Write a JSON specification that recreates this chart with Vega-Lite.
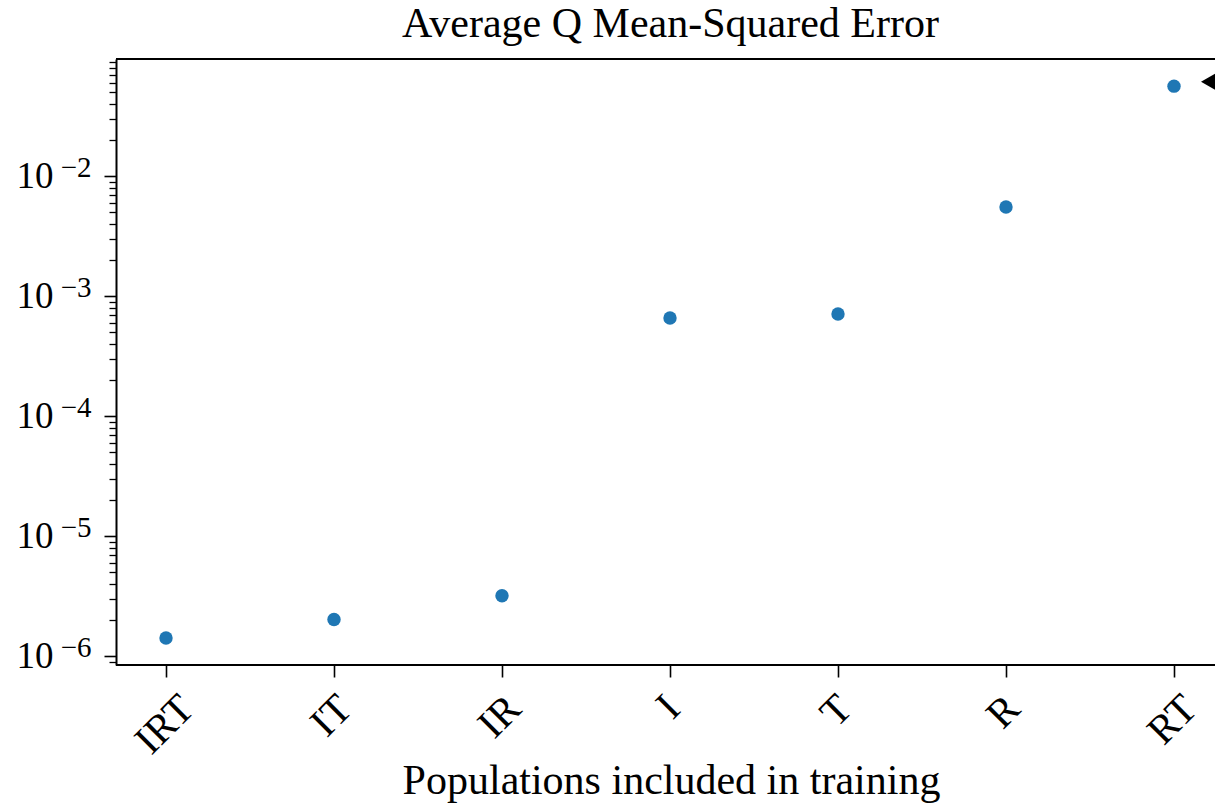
{
  "$schema": "https://vega.github.io/schema/vega-lite/v6.json",
  "width": 1099,
  "height": 606,
  "autosize": {"type": "none"},
  "padding": {"left": 116, "top": 59, "right": 0, "bottom": 146},
  "config": {
    "view": {"stroke": null},
    "font": "Liberation Serif",
    "axis": {"labelColor": "black", "tickColor": "black", "domainColor": "black", "titleColor": "black", "grid": false}
  },
  "title": {
    "text": "Average Q Mean-Squared Error",
    "font": "Liberation Serif",
    "fontSize": 42,
    "fontWeight": "normal",
    "color": "black",
    "anchor": "middle",
    "baseline": "bottom",
    "offset": 12,
    "dx": 5,
    "dy": 42
  },
  "datasets": {
    "mse": [
      {"population": "IRT", "error": 1.42e-6},
      {"population": "IT", "error": 2.02e-6},
      {"population": "IR", "error": 3.19e-6},
      {"population": "I", "error": 6.58e-4},
      {"population": "T", "error": 7.11e-4},
      {"population": "R", "error": 5.53e-3},
      {"population": "RT", "error": 5.62e-2}
    ],
    "marker": [
      {"population": "RT", "error": 6.11e-2}
    ],
    "frame": [
      {"edge": "top", "error": 0.0946},
      {"edge": "bottom", "error": 8.45e-7}
    ]
  },
  "layer": [
    {
      "data": {"name": "mse"},
      "mark": {"type": "circle", "size": 180, "color": "#1f77b4", "opacity": 1},
      "encoding": {
        "x": {
          "field": "population",
          "type": "nominal",
          "sort": null,
          "scale": {"type": "point", "range": [50, 1058], "padding": 0},
          "axis": {
            "domain": false,
            "labelAngle": -45,
            "labelAlign": "right",
            "labelBaseline": "top",
            "labelFontSize": 41,
            "labelPadding": 11,
            "labelOffset": {
              "condition": [
                {"test": "datum.value === 'IRT'", "value": 7},
                {"test": "datum.value === 'IT'", "value": -3},
                {"test": "datum.value === 'IR'", "value": -2},
                {"test": "datum.value === 'I'", "value": -11},
                {"test": "datum.value === 'T'", "value": -7},
                {"test": "datum.value === 'R'", "value": -7}
              ],
              "value": 2
            },
            "tickSize": 12,
            "tickWidth": 1.6,
            "title": "Populations included in training",
            "titleFontSize": 42,
            "titleFontWeight": "normal",
            "titleBaseline": "alphabetic",
            "titleAlign": "center",
            "titleX": 555,
            "titleY": 128
          }
        },
        "y": {
          "field": "error",
          "type": "quantitative",
          "scale": {"type": "log", "domain": [8.45e-7, 0.0946], "nice": false},
          "axis": {
            "orient": "left",
            "values": [1e-6, 1e-5, 1e-4, 1e-3, 1e-2],
            "labelExpr": "'10'",
            "labelFontSize": 37,
            "labelPadding": 51,
            "labelBaseline": "middle",
            "tickSize": 12,
            "tickWidth": 1.6,
            "domainWidth": 2,
            "title": null
          }
        }
      }
    },
    {
      "data": {"name": "frame"},
      "mark": {"type": "rule", "color": "black", "strokeWidth": 2},
      "encoding": {
        "y": {
          "field": "error",
          "type": "quantitative",
          "axis": {
            "orient": "left",
            "values": [9e-7, 2e-6, 3e-6, 4e-6, 5e-6, 6e-6, 7e-6, 8e-6, 9e-6, 2e-5, 3e-5, 4e-5, 5e-5, 6e-5, 7e-5, 8e-5, 9e-5, 2e-4, 3e-4, 4e-4, 5e-4, 6e-4, 7e-4, 8e-4, 9e-4, 2e-3, 3e-3, 4e-3, 5e-3, 6e-3, 7e-3, 8e-3, 9e-3, 2e-2, 3e-2, 4e-2, 5e-2, 6e-2, 7e-2, 8e-2, 9e-2],
            "labels": false,
            "domain": false,
            "tickSize": 7,
            "tickWidth": 1.3,
            "title": null
          }
        }
      }
    },
    {
      "data": {"name": "marker"},
      "mark": {"type": "point", "shape": "triangle-left", "filled": true, "color": "black", "opacity": 1, "size": 260, "xOffset": 34},
      "encoding": {
        "x": {"field": "population", "type": "nominal", "sort": null},
        "y": {
          "field": "error",
          "type": "quantitative",
          "axis": {
            "orient": "left",
            "values": [1e-6, 1e-5, 1e-4, 1e-3, 1e-2],
            "labelExpr": "datum.value < 5e-6 ? '−6' : datum.value < 5e-5 ? '−5' : datum.value < 5e-4 ? '−4' : datum.value < 5e-3 ? '−3' : '−2'",
            "labelFontSize": 29,
            "labelPadding": 25,
            "labelOffset": -9,
            "labelBaseline": "middle",
            "ticks": false,
            "domain": false,
            "title": null
          }
        }
      }
    }
  ],
  "resolve": {"axis": {"y": "independent"}}
}
